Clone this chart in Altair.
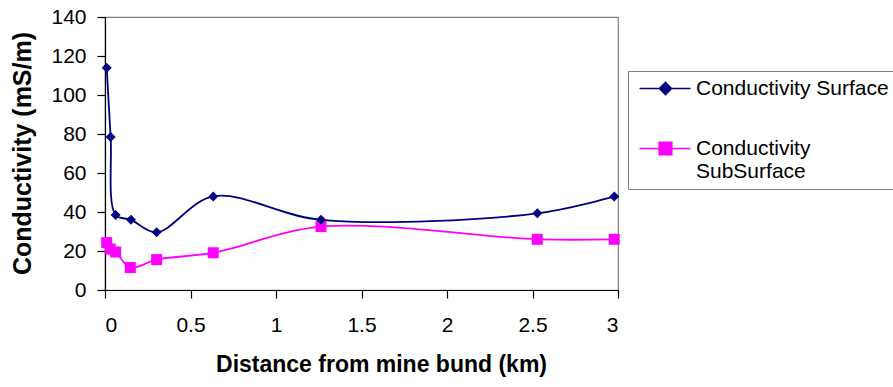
import altair as alt
import pandas as pd

# Distance from the mine bund (km) and measured conductivity (mS/m)
surface_km = [0.01, 0.033, 0.062, 0.152, 0.302, 0.633, 1.263, 2.528, 2.978]
surface_ms = [114, 78.5, 38.5, 36, 29.6, 48, 36, 39.3, 48]
subsurface_km = [0.01, 0.03, 0.062, 0.148, 0.302, 0.633, 1.263, 2.528, 2.978]
subsurface_ms = [24.3, 21, 19.5, 11.5, 15.6, 19.1, 32.5, 26, 26]

series_names = ["Conductivity Surface", "Conductivity SubSurface"]
series_colors = ["#000080", "#FF00FF"]
x_ticks = [0, 0.5, 1, 1.5, 2, 2.5, 3]
y_ticks = [0, 20, 40, 60, 80, 100, 120, 140]

surface_df = pd.DataFrame({"distance": surface_km, "conductivity": surface_ms, "series": series_names[0]})
subsurface_df = pd.DataFrame({"distance": subsurface_km, "conductivity": subsurface_ms, "series": series_names[1]})
df = pd.concat([surface_df, subsurface_df], ignore_index=True)

FONT = "Liberation Sans"

# marker shapes used in the plot (unit box, scaled by the mark size)
DIAMOND = "M0,-1L1,0L0,1L-1,0Z"
SQUARE = "M-1.1,-1.1L1.1,-1.1L1.1,1.1L-1.1,1.1Z"
# legend symbols: a short line with the marker in its middle (symbol radius 6 px)
LEG_DIAMOND = "M-1,0L7.5,0M3.33,-1L4.33,0L3.33,1L2.33,0Z"
LEG_SQUARE = "M-1,0L7.5,0M2.28,-1.05L4.38,-1.05L4.38,1.05L2.28,1.05Z"

is_surface = "datum.value == 'Conductivity Surface'"
color_expr = is_surface + " ? '#000080' : '#FF00FF'"

color_scale = alt.Scale(domain=series_names, range=series_colors)

x_enc = alt.X(
    "distance:Q",
    scale=alt.Scale(domain=[0, 3], nice=False),
    axis=alt.Axis(
        values=x_ticks,
        format="~g",
        labelOverlap=False,
        title="Distance from mine bund (km)",
        titleFontSize=23,
        titleFontWeight="bold",
        titleX=276,
        titleY=81,
        titleAlign="center",
        titleBaseline="alphabetic",
        labelPadding=16,
        labelBaseline="top",
    ),
)
y_enc = alt.Y(
    "conductivity:Q",
    scale=alt.Scale(domain=[0, 140], nice=False),
    axis=alt.Axis(
        values=y_ticks,
        tickCount=8,
        labelOverlap=False,
        title="Conductivity (mS/m)",
        titleFontSize=25,
        titleFontWeight="bold",
        titleAngle=270,
        titleX=-75,
        titleY=136,
        titleAlign="center",
        titleBaseline="alphabetic",
        labelPadding=11,
    ),
)

legend = alt.Legend(
    title=None,
    orient="none",
    legendX=523,
    legendY=54,
    direction="vertical",
    strokeColor="#808080",
    fillColor="white",
    padding=7,
    rowPadding=38,
    symbolSize=144,
    symbolStrokeWidth=1.6,
    symbolOpacity=1,
    symbolType=alt.ExprRef(expr=is_surface + " ? '" + LEG_DIAMOND + "' : '" + LEG_SQUARE + "'"),
    symbolFillColor=alt.ExprRef(expr=color_expr),
    symbolStrokeColor=alt.ExprRef(expr=color_expr),
    labelFont=FONT,
    labelFontSize=21,
    labelColor="black",
    labelLimit=400,
    labelOffset=40,
    labelBaseline="middle",
    labelExpr="datum.label == 'Conductivity SubSurface' ? ['Conductivity', 'SubSurface'] : datum.label",
)

base = alt.Chart(df).encode(x=x_enc, y=y_enc)

lines = base.mark_line(interpolate="catmull-rom", strokeWidth=1.8).encode(
    color=alt.Color("series:N", scale=color_scale, legend=legend),
)

surface_points = base.transform_filter(
    alt.datum.series == series_names[0]
).mark_point(shape=DIAMOND, filled=True, opacity=1, size=100, color=series_colors[0])

subsurface_points = base.transform_filter(
    alt.datum.series == series_names[1]
).mark_point(shape=SQUARE, filled=True, opacity=1, size=100, color=series_colors[1])

chart = (
    alt.layer(lines, subsurface_points, surface_points)
    .properties(
        width=513,
        height=273,
        autosize=alt.AutoSizeParams(type="none"),
        padding={"left": 105, "top": 17, "right": 275, "bottom": 97},
        background="white",
    )
    .configure_view(stroke="#808080", strokeWidth=1.2)
    .configure_axis(
        grid=False,
        domainColor="black",
        domainWidth=1.2,
        tickColor="black",
        tickSize=8,
        tickWidth=1.2,
        labelFont=FONT,
        labelFontSize=21,
        labelColor="black",
        titleFont=FONT,
        titleColor="black",
    )
)

chart.save("out.html", embed_options={"renderer": "svg", "actions": False})
